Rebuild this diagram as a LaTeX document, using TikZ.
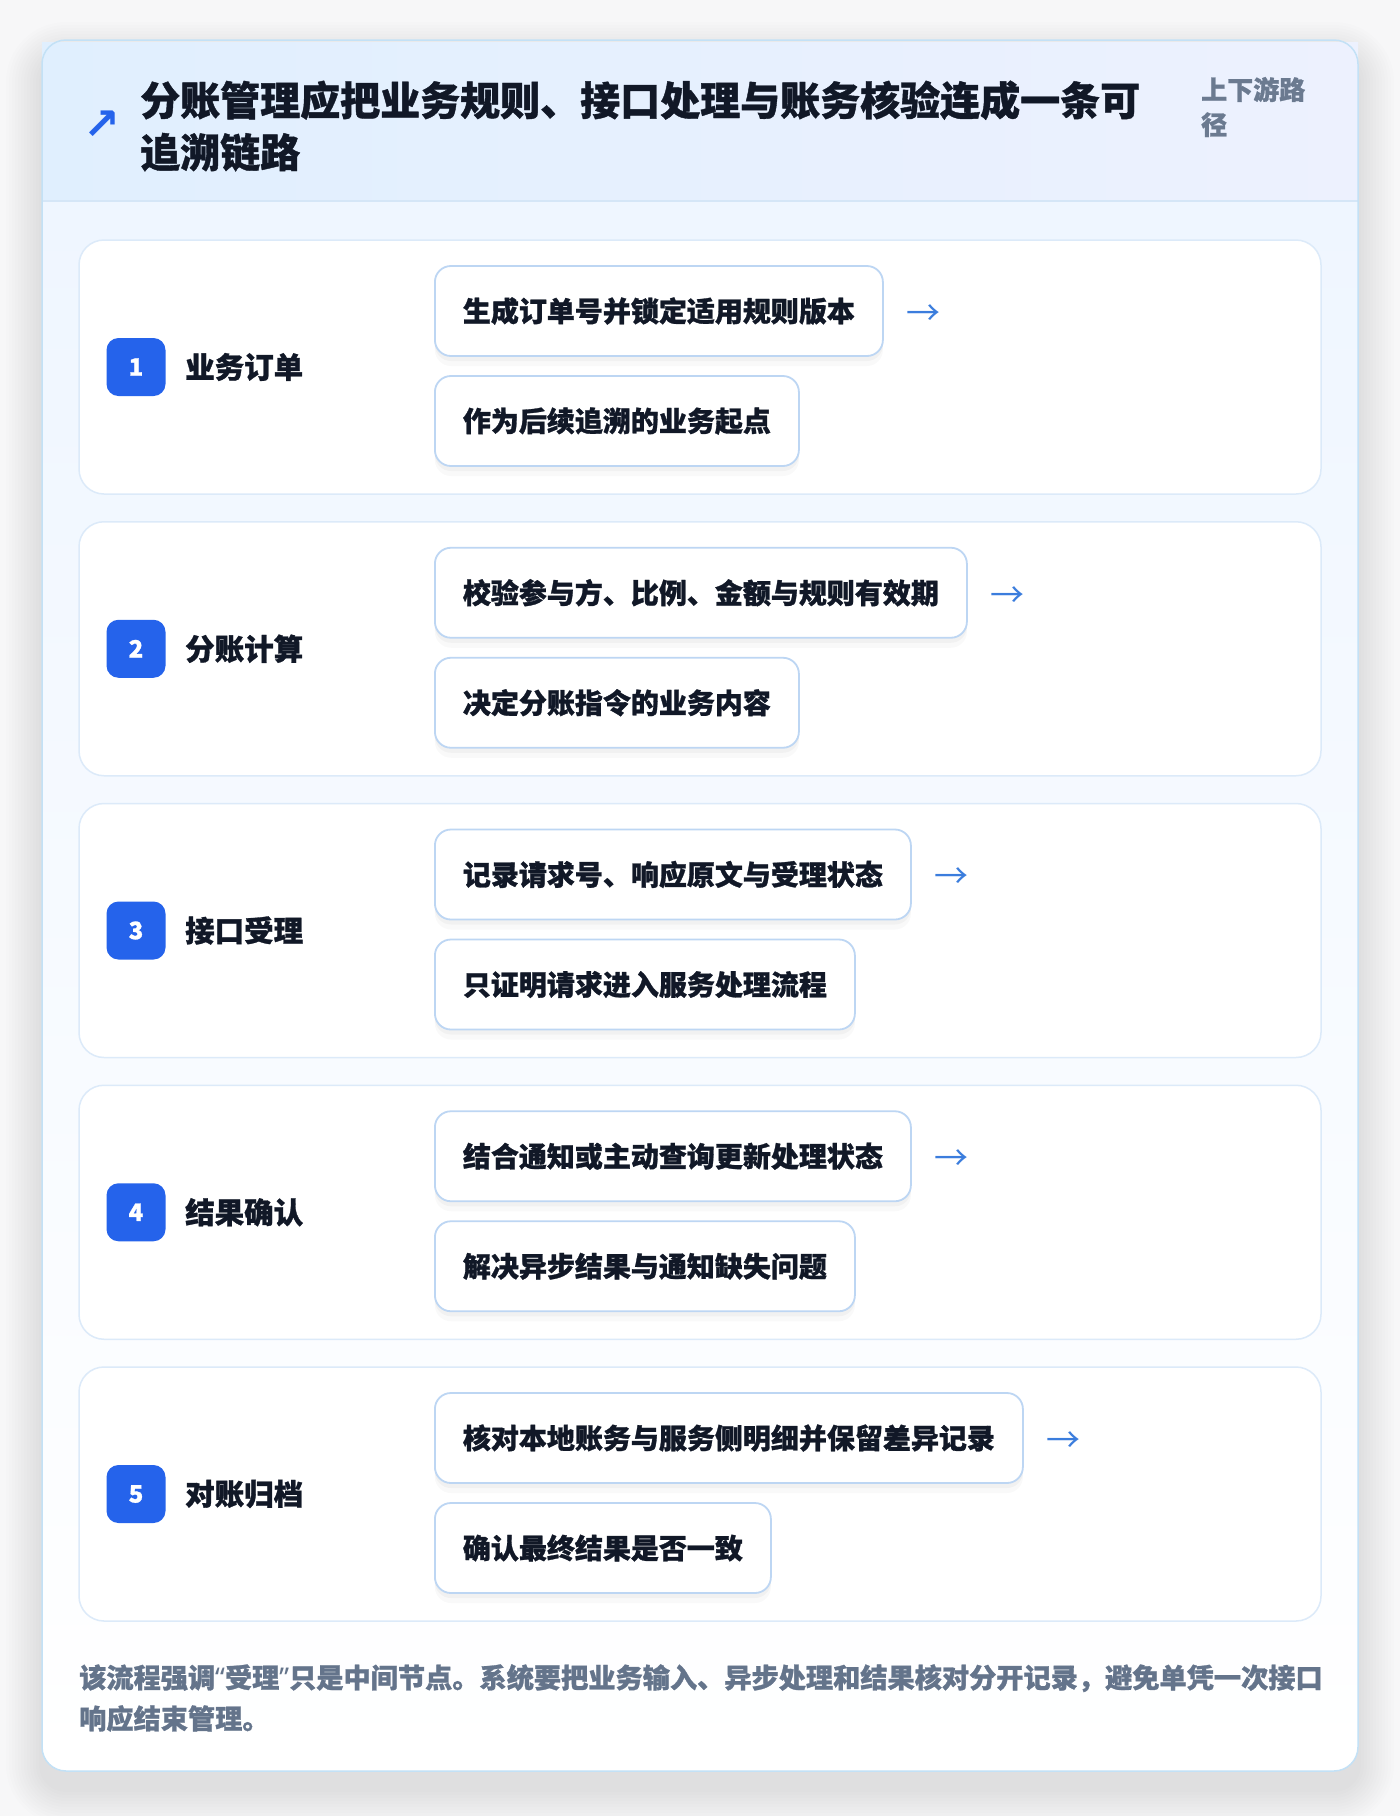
\documentclass[tikz,border=0pt]{standalone}
\usepackage{fontspec}
\setmainfont{Noto Sans CJK SC}[BoldFeatures={FakeBold=1}]
\newfontfamily\symfont{DejaVu Sans}
\newfontfamily\latinfont{Noto Sans}
\usetikzlibrary{positioning}
\definecolor{pagebg}{HTML}{F7F7F8}
\definecolor{cardline}{HTML}{C3E1F6}
\definecolor{hdrleft}{HTML}{E0EFFE}
\definecolor{hdrright}{HTML}{EDF1FE}
\definecolor{hdrline}{HTML}{D5E6F7}
\definecolor{bodytop}{HTML}{EFF6FF}
\definecolor{panelline}{HTML}{DCEAF9}
\definecolor{boxline}{HTML}{BDD6F3}
\definecolor{badgeblue}{HTML}{2563EB}
\definecolor{arrowblue}{HTML}{3B7DDD}
\definecolor{ink}{HTML}{111827}
\definecolor{mutedink}{HTML}{64748B}
\definecolor{tagink}{HTML}{6B7A90}
\newcommand{\fsz}[2]{\fontsize{#1}{#2}\selectfont}
\newcommand{\openq}{{\latinfont\bfseries “}}
\newcommand{\closeq}{{\latinfont\bfseries ”}}

\begin{document}
\begin{tikzpicture}[
		x=1pt, y=-1pt,
		panel/.style={draw=panelline, line width=1.5pt, fill=white, rounded corners=25pt, minimum width=1242pt, minimum height=254pt, inner sep=0pt},
		badge/.style={fill=badgeblue, rounded corners=12pt, minimum width=59pt, minimum height=58pt, inner sep=0pt, text=white, font=\fsz{24}{28}\bfseries},
		steplabel/.style={anchor=west, inner sep=0pt, text=ink, font=\fsz{29.5}{34}\bfseries},
		detail/.style={draw=boxline, line width=1.8pt, fill=white, rounded corners=16pt, minimum height=90pt, inner xsep=28pt, anchor=west, text=ink, font=\fsz{28}{32}\bfseries,
			preaction={fill=black, opacity=0.025, transform canvas={yshift=-10pt}},
			preaction={fill=black, opacity=0.03, transform canvas={yshift=-5pt}}},
		flowarrow/.style={inner sep=0pt, text=arrowblue, font=\fsz{34}{38}},
	]
	\useasboundingbox (0,0) rectangle (1400,1816);
	\fill[pagebg] (0,0) rectangle (1400,1816);

	% soft shadow under the card
	\foreach \s in {3,6,...,36} {
		\pgfmathsetmacro\rr{24+\s}
		\fill[black, opacity=0.006, rounded corners=\rr pt] (42-\s,58-\s) rectangle (1358+\s,1789+\s);
	}

	% card with header band
	\begin{scope}
		\clip[rounded corners=24pt] (42,40) rectangle (1358,1771);
		\fill[top color=bodytop, bottom color=white] (42,201) rectangle (1358,1771);
	\end{scope}
	\fill[left color=hdrleft, right color=hdrright] (42,42) rectangle (1358,201);
	\draw[hdrline, line width=1.5pt] (42,201) -- (1358,201);
	\draw[cardline, line width=1.5pt, rounded corners=24pt] (42,40) rectangle (1358,1771);

	\node[text=badgeblue, inner sep=0pt, font=\symfont\bfseries\fsz{44}{48}] (icon) at (102,125) {↗};
	\node[anchor=west, inner sep=0pt, align=left, text=ink, font=\fsz{40}{52}\bfseries] (title) at (140,126)
		{分账管理应把业务规则、接口处理与账务核验连成一条可\\追溯链路};
	\node[anchor=west, inner sep=0pt, align=left, text=tagink, font=\fsz{26}{35}\bfseries] (tag) at (1201,107)
		{上下游路\\径};

	% steps
	\foreach \n/\lbl/\ta/\tb in {
			1/业务订单/生成订单号并锁定适用规则版本/作为后续追溯的业务起点,
			2/分账计算/校验参与方、比例、金额与规则有效期/决定分账指令的业务内容,
			3/接口受理/记录请求号、响应原文与受理状态/只证明请求进入服务处理流程,
			4/结果确认/结合通知或主动查询更新处理状态/解决异步结果与通知缺失问题,
			5/对账归档/核对本地账务与服务侧明细并保留差异记录/确认最终结果是否一致} {
		\pgfmathsetmacro\py{240+281.75*(\n-1)}
		\node[panel] (panel\n) at (700,\py+127) {};
		\node[badge] (badge\n) at (136,\py+127) {\n};
		\node[steplabel] (lbl\n) at (185,\py+127) {\lbl};
		\node[detail] (boxa\n) at (434,\py+71) {\ta};
		\node[detail] (boxb\n) at (434,\py+181) {\tb};
		\node[flowarrow, right=22pt of boxa\n, yshift=-4pt] (arr\n) {→};
	}

	\node[anchor=west, inner sep=0pt, align=left, text=mutedink, font=\fsz{27.2}{41}\bfseries] (note) at (79,1698)
		{该流程强调\openq 受理\closeq 只是中间节点。系统要把业务输入、异步处理和结果核对分开记录，避免单凭一次接口\\响应结束管理。};
\end{tikzpicture}
\end{document}
